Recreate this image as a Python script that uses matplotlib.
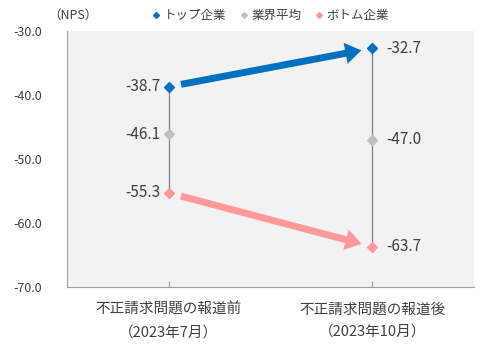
import numpy as np
import matplotlib.pyplot as plt

plt.rcParams['font.family'] = ['Noto Sans CJK JP', 'DejaVu Sans']

categories = ['不正請求問題の報道前\n（2023年7月）', '不正請求問題の報道後\n（2023年10月）']
top = [-38.7, -32.7]
avg = [-46.1, -47.0]
bottom = [-55.3, -63.7]
series_names = ['トップ企業', '業界平均', 'ボトム企業']
colors = ['#0070c0', '#c0c0c0', '#ff9999']

fig = plt.figure(figsize=(4.89, 3.54), dpi=100)
ax = fig.add_axes([67/489, 1-287/354, 407/489, 256/354])
ax.set_facecolor('#f2f2f2')
x = np.arange(len(categories))

# high-low lines
for i in x:
    ax.plot([i, i], [bottom[i], top[i]], color='#808080', lw=0.9, zorder=1)

for vals, c, name in zip([top, avg, bottom], colors, series_names):
    ax.plot(x, vals, linestyle='none', marker='D', ms=5, color=c, label=name, zorder=3)

# change arrows
for vals, c in [(top, colors[0]), (bottom, colors[2])]:
    ax.annotate('', xy=(x[1], vals[1]), xytext=(x[0], vals[0]),
                arrowprops=dict(arrowstyle='-|>,head_length=0.45,head_width=0.3',
                                color=c, lw=5, shrinkA=9, shrinkB=8,
                                joinstyle='miter', capstyle='butt'), zorder=2)

for vals in [top, avg, bottom]:
    ax.text(x[0] - 0.04, vals[0], f'{vals[0]:.1f}', ha='right', va='center',
            fontsize=11, color='#404040')
    ax.text(x[1] + 0.07, vals[1], f'{vals[1]:.1f}', ha='left', va='center',
            fontsize=11, color='#404040')

ax.set_xlim(-0.5, 1.5)
ax.set_ylim(-70, -30)
ax.set_yticks(np.arange(-70, -29, 10))
ax.set_yticklabels([f'{v:.1f}' for v in np.arange(-70, -29, 10)])
ax.set_xticks(x)
ax.set_xticklabels(categories, linespacing=1.8)
ax.tick_params(axis='y', length=0, labelsize=9, labelcolor='#404040', pad=18)
ax.tick_params(axis='x', direction='in', length=4, color='#a0a0a0', labelsize=10.5,
               labelcolor='#404040', pad=11)
for s in ['top', 'right']:
    ax.spines[s].set_visible(False)
for s in ['left', 'bottom']:
    ax.spines[s].set_color('#a0a0a0')
    ax.spines[s].set_linewidth(0.8)

fig.text(48/489, 1-15/354, '（NPS）', fontsize=9, color='#404040', va='center')
leg = ax.legend(loc='lower center', bbox_to_anchor=(0.5, 1.0), ncol=3, frameon=False,
                fontsize=9, handlelength=0.6, handletextpad=0.3, columnspacing=1.1,
                markerscale=0.6, borderaxespad=0.3)
for t in leg.get_texts():
    t.set_color('#404040')

fig.savefig('out.png', dpi=100)
